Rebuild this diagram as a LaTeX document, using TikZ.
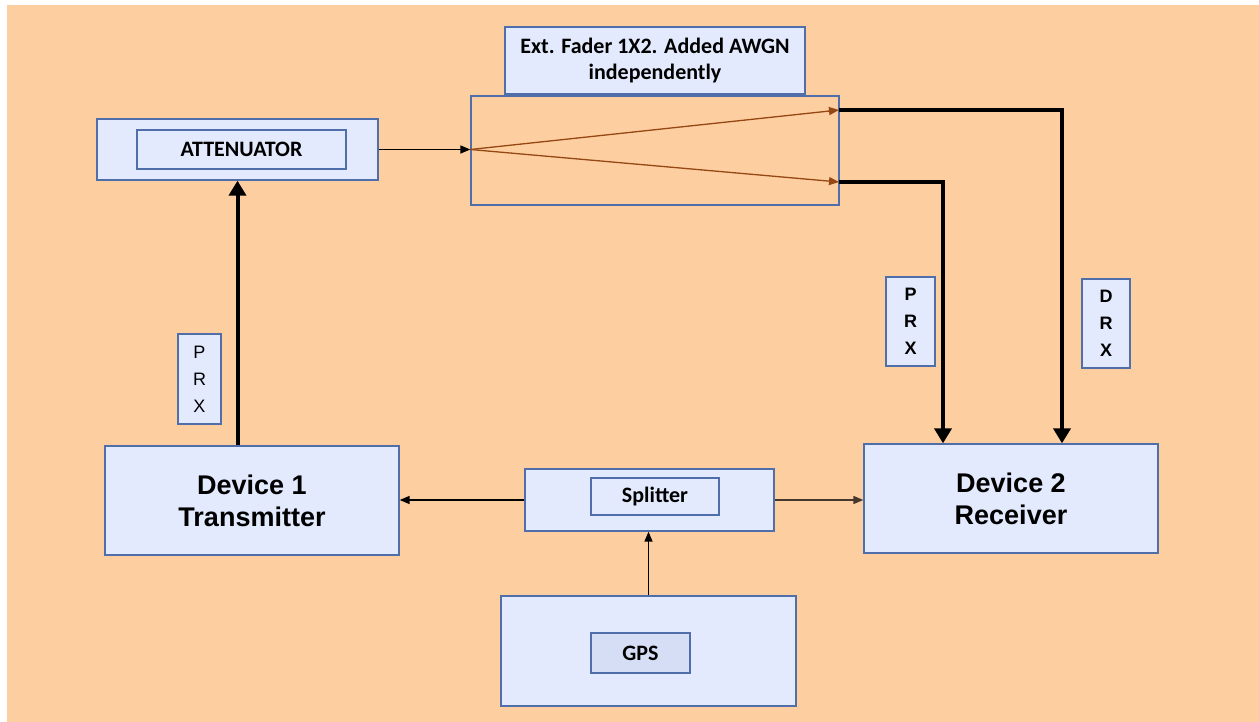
\documentclass[tikz,border=0pt]{standalone}
\usepackage{fontspec}
\setmainfont{Carlito}
\newfontfamily\arialf{Liberation Sans}
\usetikzlibrary{arrows.meta,calc}

\definecolor{bgorange}{RGB}{253,206,160}
\definecolor{boxfill}{RGB}{227,234,253}
\definecolor{gpsfill}{RGB}{214,222,245}
\definecolor{boxline}{RGB}{80,111,170}
\definecolor{splitbrown}{RGB}{150,72,20}
\definecolor{linkgrey}{RGB}{70,55,45}

\tikzset{
  blk/.style={draw=boxline, fill=boxfill, line width=1.3pt, inner sep=0pt,
              align=center, font=\bfseries\fontsize{22}{26}\selectfont},
  devtext/.style={font=\arialf\bfseries\fontsize{27}{32}\selectfont},
  lettbox/.style={blk, font=\arialf\fontsize{18}{27}\selectfont},
  boldlett/.style={font=\arialf\bfseries\fontsize{18}{27}\selectfont},
  thinlink/.style={line width=1.5pt, -{Triangle[length=10pt,width=8pt]}},
  thicklink/.style={line width=4pt, -{Triangle[length=15pt,width=17pt]}},
  forklink/.style={draw=splitbrown, line width=1.3pt, -{Triangle[length=10pt,width=8pt]}}
}

\begin{document}
\begin{tikzpicture}[x=1pt,y=-1pt]
  % page and backdrop
  \useasboundingbox (0,0) rectangle (1259,722);
  \fill[white] (0,0) rectangle (1259,722);
  \fill[bgorange] (7,5) rectangle (1259,722);

  % attenuator
  \node[blk, minimum width=281pt, minimum height=61pt] (att) at (237.5,149.5) {};
  \node[blk, minimum width=209pt, minimum height=39pt] (attin) at (241.5,149.5) {ATTENUATOR};

  % fader and its caption
  \node[blk, minimum width=300pt, minimum height=67pt] (fadhdr) at (655,60.5)
       {Ext. Fader 1X2. Added AWGN\\independently};
  \node[blk, fill=none, minimum width=368pt, minimum height=109pt] (fader) at (655,150.5) {};

  % devices
  \node[blk, devtext, minimum width=294pt, minimum height=109pt] (dev1) at (252,500.5)
       {Device 1\\Transmitter};
  \node[blk, devtext, minimum width=294pt, minimum height=109pt] (dev2) at (1011,498.5)
       {Device 2\\Receiver};

  % splitter and GPS
  \node[blk, minimum width=249pt, minimum height=62pt] (spl) at (649.5,500) {};
  \node[blk, minimum width=128pt, minimum height=37pt] (splin) at (655,496.5) {Splitter};
  \node[blk, minimum width=295pt, minimum height=110pt] (gps) at (648.5,651) {};
  \node[blk, fill=gpsfill, minimum width=99pt, minimum height=40pt] (gpsin) at (640.5,653) {GPS};

  % port labels
  \node[lettbox, minimum width=43pt, minimum height=90pt] (prxL) at (199.5,379) {P\\R\\X};
  \node[lettbox, boldlett, minimum width=49pt, minimum height=89pt] (prxR) at (910.5,321.5) {P\\R\\X};
  \node[lettbox, boldlett, minimum width=48pt, minimum height=89pt] (drx) at (1106,323.5) {D\\R\\X};

  % fader branch points and receiver columns
  \coordinate (fork) at (att.east -| fader.west);
  \coordinate (outA) at (839,110);
  \coordinate (outB) at (839,182);
  \coordinate (dcol) at (1062,0);
  \coordinate (pcol) at (943,0);

  % transmit path
  \draw[thicklink] (dev1.north -| att.south) -- (att.south);
  \draw[thinlink] (att.east) -- (fork);
  \draw[forklink] (fork) -- (outA);
  \draw[forklink] (fork) -- (outB);

  % fader outputs to receiver
  \draw[thicklink] (outA) -| (dev2.north -| dcol);
  \draw[thicklink] (outB) -| (dev2.north -| pcol);

  % timing distribution
  \draw[thinlink] (spl.west) -- (spl.west -| dev1.east);
  \draw[thinlink, draw=linkgrey] (spl.east) -- (spl.east -| dev2.west);
  \draw[thinlink] (gps.north) -- (gps.north |- spl.south);
\end{tikzpicture}
\end{document}
